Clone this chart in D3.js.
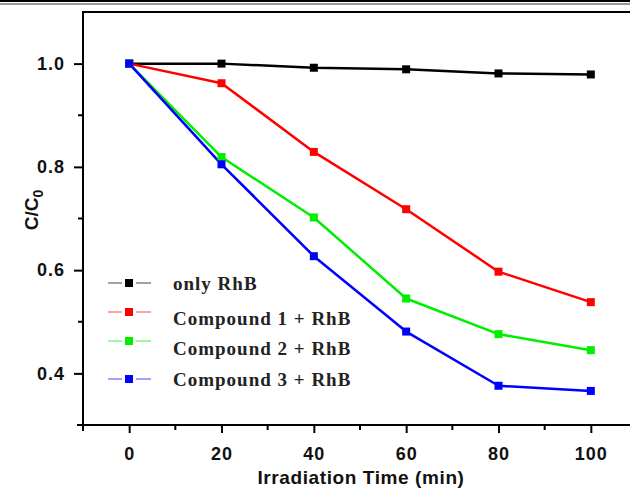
<!DOCTYPE html>
<html>
<head>
<meta charset="utf-8">
<script src="https://cdn.jsdelivr.net/npm/d3@7"></script>
<style>
  body { margin: 0; background: #fff; }
  svg { display: block; }
</style>
</head>
<body>
<div id="chart"></div>
<script>
// data
const times = [0, 20, 40, 60, 80, 100];
const onlyRhB = [1.0, 1.0, 0.992, 0.989, 0.981, 0.979];
const compound1 = [1.0, 0.962, 0.829, 0.718, 0.597, 0.538];
const compound2 = [1.0, 0.819, 0.702, 0.545, 0.476, 0.445];
const compound3 = [1.0, 0.805, 0.627, 0.481, 0.376, 0.366];
const seriesNames = ["only RhB", "Compound 1 + RhB", "Compound 2 + RhB", "Compound 3 + RhB"];
const seriesColors = ["#000000", "#ff0000", "#00ee00", "#0000ff"];
const xTicks = [0, 20, 40, 60, 80, 100];
const yTicks = [0.4, 0.6, 0.8, 1.0];

const series = [onlyRhB, compound1, compound2, compound3].map((vals, i) => ({
    name: seriesNames[i],
    color: seriesColors[i],
    values: vals.map((v, j) => ({ t: times[j], v }))
}));

const W = 630, H = 488;
const svg = d3.select("#chart").append("svg")
    .attr("width", W)
    .attr("height", H);

// double rule along the top
svg.append("line").attr("x1", 0).attr("x2", W).attr("y1", 1).attr("y2", 1)
    .attr("stroke", "#000").attr("stroke-width", 2);
svg.append("line").attr("x1", 0).attr("x2", W).attr("y1", 4).attr("y2", 4)
    .attr("stroke", "#333").attr("stroke-width", 1);

const x = d3.scaleLinear().domain([-10, 110]).range([83, 637]);
const y = d3.scaleLinear().domain([0.3, 1.1]).range([425, 12]);

const tickFont = "'Liberation Sans', Arial, sans-serif";

// frame top
svg.append("line")
    .attr("x1", x(-10)).attr("x2", W + 10)
    .attr("y1", y(1.1)).attr("y2", y(1.1))
    .attr("stroke", "#000").attr("stroke-width", 2);

// bottom axis
const xAxis = svg.append("g")
    .attr("transform", `translate(0,${y(0.3)})`)
    .call(d3.axisBottom(x).tickValues(xTicks).tickSize(8).tickPadding(14).tickFormat(d3.format("d")));
xAxis.select(".domain").attr("d", `M${x(-10) - 6},0H${W + 10}`).attr("stroke-width", 2);
xAxis.selectAll(".tick line").attr("stroke-width", 2);
xAxis.selectAll("text")
    .style("font-family", tickFont).style("font-size", "18px").style("font-weight", "bold")
    .style("letter-spacing", "1px")
    .attr("fill", "#111");
// minor x ticks
xAxis.selectAll(".minor")
    .data([-10, 10, 30, 50, 70, 90, 110])
    .enter().append("line")
    .attr("class", "minor")
    .attr("x1", d => x(d)).attr("x2", d => x(d))
    .attr("y1", 0).attr("y2", 5)
    .attr("stroke", "#000").attr("stroke-width", 2);

// left axis
const yAxis = svg.append("g")
    .attr("transform", `translate(${x(-10)},0)`)
    .call(d3.axisLeft(y).tickValues(yTicks).tickSize(9).tickPadding(9).tickFormat(d3.format(".1f")));
yAxis.select(".domain").attr("d", `M0,${y(0.3) + 6}V${y(1.1) - 1}`).attr("stroke-width", 2);
yAxis.selectAll(".tick line").attr("stroke-width", 2);
yAxis.selectAll("text")
    .style("font-family", tickFont).style("font-size", "18px").style("font-weight", "bold")
    .style("letter-spacing", "1px")
    .attr("fill", "#111");
yAxis.selectAll(".minor")
    .data([0.5, 0.7, 0.9])
    .enter().append("line")
    .attr("class", "minor")
    .attr("x1", -5).attr("x2", 0)
    .attr("y1", d => y(d)).attr("y2", d => y(d))
    .attr("stroke", "#000").attr("stroke-width", 2);

// axis titles
svg.append("text")
    .attr("x", 361).attr("y", 484)
    .attr("text-anchor", "middle")
    .style("font-family", tickFont).style("font-size", "19px").style("font-weight", "bold")
    .style("letter-spacing", "0.6px")
    .attr("fill", "#111")
    .text("Irradiation Time (min)");

const yTitle = svg.append("text")
    .attr("transform", "translate(38,210) rotate(-90)")
    .attr("text-anchor", "middle")
    .style("font-family", tickFont).style("font-size", "19px").style("font-weight", "bold")
    .attr("fill", "#111");
yTitle.append("tspan").text("C/C");
yTitle.append("tspan").attr("dy", 5).style("font-size", "14px").text("0");

// lines and markers
const line = d3.line().x(d => x(d.t)).y(d => y(d.v));

series.forEach(s => {
    svg.append("path")
        .datum(s.values)
        .attr("fill", "none")
        .attr("stroke", s.color)
        .attr("stroke-width", 2.5)
        .attr("stroke-linejoin", "round")
        .attr("d", line);
});
series.forEach(s => {
    svg.selectAll(null)
        .data(s.values)
        .enter().append("rect")
        .attr("x", d => x(d.t) - 4)
        .attr("y", d => y(d.v) - 4)
        .attr("width", 8).attr("height", 8)
        .attr("fill", s.color);
});

// legend
const legendMarkY = [283, 312, 341, 379];
const legendTextY = [283, 318, 348, 379];
const legend = svg.append("g");
series.forEach((s, i) => {
    const g = legend.append("g");
    g.append("line").attr("x1", 108).attr("x2", 122)
        .attr("y1", legendMarkY[i]).attr("y2", legendMarkY[i])
        .attr("stroke", s.color).attr("stroke-width", 1.2).attr("opacity", 0.6);
    g.append("line").attr("x1", 136).attr("x2", 151)
        .attr("y1", legendMarkY[i]).attr("y2", legendMarkY[i])
        .attr("stroke", s.color).attr("stroke-width", 1.2).attr("opacity", 0.6);
    g.append("rect")
        .attr("x", 125).attr("y", legendMarkY[i] - 4)
        .attr("width", 8).attr("height", 8)
        .attr("fill", s.color);
    g.append("text")
        .attr("x", 173).attr("y", legendTextY[i])
        .attr("dy", "0.35em")
        .style("font-family", "'Liberation Serif', 'Times New Roman', serif")
        .style("font-size", "19px").style("font-weight", "bold")
        .style("letter-spacing", "1px")
        .attr("fill", "#222")
        .text(s.name);
});
</script>
</body>
</html>
